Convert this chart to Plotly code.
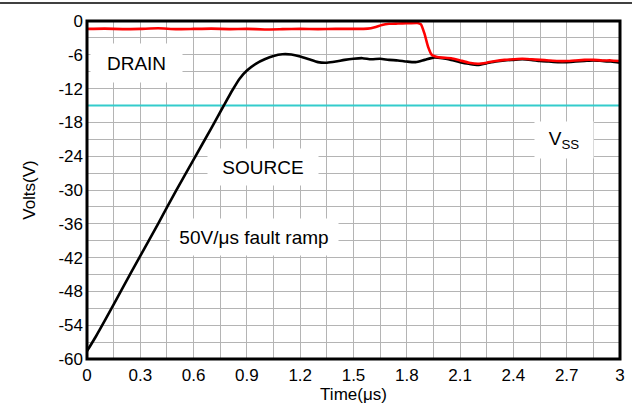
import plotly.graph_objects as go

# ---- data ----
source_t = [0.00, 0.05, 0.10, 0.20, 0.30, 0.40, 0.50, 0.60, 0.70, 0.77, 0.82, 0.86, 0.90, 0.95,
            1.00, 1.05, 1.10, 1.15, 1.20, 1.25, 1.30, 1.35, 1.40, 1.45, 1.50, 1.55, 1.60, 1.65,
            1.70, 1.75, 1.80, 1.85, 1.90, 1.95, 2.00, 2.05, 2.10, 2.15, 2.20, 2.25, 2.30, 2.35,
            2.40, 2.45, 2.50, 2.55, 2.60, 2.65, 2.70, 2.75, 2.80, 2.85, 2.90, 2.95, 3.00]
source_v = [-58.6, -56.0, -53.2, -47.4, -41.7, -36.0, -30.2, -24.6, -19.0, -15.0, -12.2, -10.2, -8.8, -7.6,
            -6.8, -6.2, -5.9, -5.95, -6.3, -6.8, -7.3, -7.4, -7.2, -6.9, -6.7, -6.6, -6.8, -6.7,
            -6.9, -7.0, -7.2, -7.3, -6.9, -6.5, -6.6, -6.9, -7.3, -7.6, -7.8, -7.5, -7.2, -7.0,
            -6.9, -6.8, -6.9, -7.1, -7.2, -7.3, -7.3, -7.2, -7.1, -7.0, -7.1, -7.2, -7.4]

drain_t = [0.00, 0.10, 0.20, 0.30, 0.40, 0.50, 0.60, 0.70, 0.80, 0.90, 1.00, 1.10, 1.20, 1.30,
           1.40, 1.50, 1.58, 1.62, 1.66, 1.70, 1.75, 1.80, 1.86, 1.88, 1.90, 1.92, 1.94, 1.97,
           2.00, 2.05, 2.10, 2.15, 2.20, 2.25, 2.30, 2.35, 2.40, 2.45, 2.50, 2.55, 2.60, 2.65,
           2.70, 2.75, 2.80, 2.85, 2.90, 2.95, 3.00]
drain_v = [-1.4, -1.35, -1.45, -1.4, -1.3, -1.45, -1.4, -1.35, -1.45, -1.4, -1.5, -1.45, -1.4, -1.45,
           -1.4, -1.4, -1.35, -1.1, -0.7, -0.5, -0.45, -0.4, -0.35, -0.6, -2.3, -4.6, -6.0, -6.4,
           -6.5, -6.6, -7.0, -7.4, -7.6, -7.4, -7.1, -6.9, -6.8, -6.7, -6.8, -6.9, -7.0, -7.1,
           -7.1, -7.0, -6.9, -6.9, -7.0, -7.0, -7.1]

vss_t = [0.0, 3.0]
vss_v = [-15.0, -15.0]

x_ticks = [0, 0.3, 0.6, 0.9, 1.2, 1.5, 1.8, 2.1, 2.4, 2.7, 3]
x_tick_labels = ["0", "0.3", "0.6", "0.9", "1.2", "1.5", "1.8", "2.1", "2.4", "2.7", "3"]
y_ticks = [0, -6, -12, -18, -24, -30, -36, -42, -48, -54, -60]
y_tick_labels = ["0", "-6", "-12", "-18", "-24", "-30", "-36", "-42", "-48", "-54", "-60"]

labels = [
    ("DRAIN", 0.28, -7.45, 91, 38),
    ("SOURCE", 0.99, -25.9, 110, 36),
    ("50V/\u03bcs fault ramp", 0.94, -38.4, 168, 36),
    ("V<sub>SS</sub>", 2.685, -21.2, 58, 36),
]

FONT = "Liberation Sans, Arial, sans-serif"
GRID = "#B4B4B4"

fig = go.Figure()
fig.add_trace(go.Scatter(x=vss_t, y=vss_v, mode="lines",
                         line=dict(color="#33CCCC", width=2), showlegend=False))
fig.add_trace(go.Scatter(x=source_t, y=source_v, mode="lines",
                         line=dict(color="black", width=2.6, shape="spline", smoothing=0.6),
                         showlegend=False))
fig.add_trace(go.Scatter(x=drain_t, y=drain_v, mode="lines",
                         line=dict(color="#FF0000", width=2.6, shape="spline", smoothing=0.4),
                         showlegend=False))

for txt, x, y, w, h in labels:
    fig.add_annotation(x=x, y=y, xref="x", yref="y", text=txt, showarrow=False,
                       font=dict(family=FONT, size=19, color="black"),
                       bgcolor="white", width=w, height=h, borderpad=0,
                       align="center", valign="middle")

# plot frame
fig.add_shape(type="rect", xref="paper", yref="paper", x0=0, x1=1, y0=0, y1=1,
              line=dict(color="black", width=3), layer="above")
# top rule line across the page
fig.add_shape(type="line", xref="paper", yref="paper", x0=-0.1632, x1=1.0225,
              y0=1.053, y1=1.053, line=dict(color="black", width=1.5))

fig.update_layout(
    width=639, height=416,
    margin=dict(l=87, r=19, t=21, b=57),
    paper_bgcolor="white", plot_bgcolor="white",
    font=dict(family=FONT, size=17, color="black"),
    xaxis=dict(range=[0, 3], tickvals=x_ticks, ticktext=x_tick_labels,
               showgrid=True, gridcolor=GRID, gridwidth=1,
               minor=dict(dtick=0.15, showgrid=True, gridcolor=GRID, gridwidth=1),
               showline=False, ticks="", zeroline=False, ticklabelstandoff=4,
               tickfont=dict(size=17),
               title=dict(text="Time(\u03bcs)", font=dict(size=17), standoff=0)),
    yaxis=dict(range=[-60, 0], tickvals=y_ticks, ticktext=y_tick_labels,
               showgrid=True, gridcolor=GRID, gridwidth=1,
               minor=dict(dtick=3, showgrid=True, gridcolor=GRID, gridwidth=1),
               showline=False, ticks="", zeroline=False, ticklabelstandoff=3,
               tickfont=dict(size=17),
               title=dict(text="Volts(V)", font=dict(size=17), standoff=18)),
)

fig.write_html("out.html", config={"displayModeBar": False},
               post_script="document.body.style.margin='0px';")
